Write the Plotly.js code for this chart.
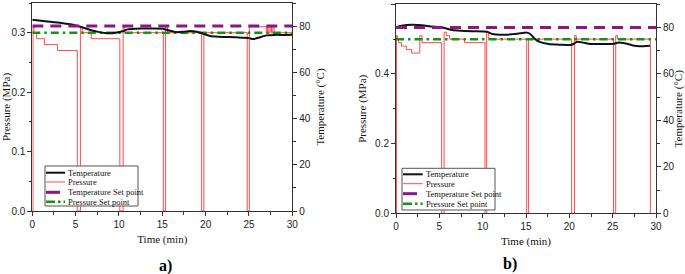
<!DOCTYPE html>
<html>
<head>
<meta charset="utf-8">
<script src="https://cdn.plot.ly/plotly-3.0.1.min.js"></script>
<style>html,body{margin:0;padding:0;background:#fff;}#chart{width:685px;height:274px;}</style>
</head>
<body>
<div id="chart"></div>
<script>
// ---------- data ----------
// Panel a)
const pressA_t = [0, 0.08, 0.2, 0.5, 1.4, 2.9, 5.19, 5.55, 5.75, 6.8, 10.1, 10.48, 10.65, 15.12, 15.38, 15.6, 19.54, 19.8, 24.8, 25.04, 27.0, 27.15, 27.3, 27.45, 27.6, 27.75, 27.9, 28.0, 30];
const pressA_v = [0, 0.31, 0.30, 0.29, 0.28, 0.27, 0, 0.31, 0.30, 0.29, 0, 0.31, 0.30, 0, 0.31, 0.30, 0, 0.30, 0, 0.31, 0.30, 0.31, 0.30, 0.31, 0.30, 0.31, 0.30, 0.30, 0.30];
const tempA_t = [0, 1.5, 3.35, 5.0, 5.65, 6.8, 7.6, 8.35, 9.2, 9.9, 10.5, 11.0, 11.8, 12.6, 14.0, 15.1, 15.9, 16.65, 17.5, 18.2, 19.0, 19.5, 20.0, 20.5, 21.5, 22.4, 23.5, 24.3, 25.0, 25.5, 26.2, 27.0, 28.0, 29.0, 30];
const tempA_v = [82.8, 82.1, 81.3, 80.3, 79.6, 78.2, 77.5, 77.0, 76.9, 77.3, 77.9, 78.6, 78.9, 79.0, 79.0, 78.9, 78.0, 77.4, 77.6, 77.9, 77.6, 77.0, 76.3, 75.7, 75.4, 75.3, 75.2, 75.0, 74.8, 74.4, 75.1, 76.0, 76.2, 76.2, 76.3];
const setA_t = [0, 30];
const tempSetA = [80, 80];
const pressSetA = [0.3, 0.3];

// Panel b)
const pressB_t = [0, 0.05, 0.15, 0.3, 0.65, 1.2, 1.8, 2.75, 3.0, 5.27, 5.55, 5.8, 6.2, 7.9, 10.27, 10.46, 10.7, 15.08, 15.3, 20.27, 20.6, 20.8, 25.1, 25.35, 25.55, 29.35];
const pressB_v = [0, 0.51, 0.50, 0.49, 0.48, 0.47, 0.46, 0.51, 0.49, 0, 0.52, 0.51, 0.50, 0.49, 0, 0.52, 0.50, 0, 0.50, 0, 0.51, 0.50, 0, 0.51, 0.50, 0];
const tempB_t = [0, 0.8, 1.85, 3.0, 4.15, 5.0, 5.7, 6.5, 7.5, 8.8, 10.5, 11.1, 12.6, 14.0, 15.1, 15.5, 16.0, 16.5, 17.6, 19.0, 20.1, 20.5, 20.9, 21.6, 22.4, 24.0, 25.1, 25.7, 26.5, 27.8, 29.3];
const tempB_v = [80.1, 80.9, 81.2, 81.0, 80.4, 80.2, 79.7, 78.9, 78.6, 78.4, 78.2, 77.2, 76.9, 77.3, 77.8, 77.2, 75.2, 73.9, 72.9, 72.6, 72.5, 72.9, 73.9, 73.5, 72.9, 72.9, 73.0, 73.5, 73.1, 72.0, 72.2];
const setB_t = [0, 30];
const tempSetB = [80, 80];
const pressSetB = [0.5, 0.5];

const legendLabels = ["Temperature", "Pressure", "Temperature Set point", "Pressure Set point"];
const panelLabels = ["a)", "b)"];

// ---------- styles ----------
const RED = '#ff4a4a', BLACK = '#111111', PURPLE = '#8a168a', GREEN = '#1a8f1a';
const styles = [
  {color: BLACK, width: 2, dash: 'solid'},
  {color: RED, width: 1, dash: 'solid'},
  {color: PURPLE, width: 3, dash: '11px,7px'},
  {color: GREEN, width: 2.5, dash: '8px,4px,2.5px,4px'}
];

function panelTraces(xa, yp, yt, pt, pv, tt, tv, st, ts, ps) {
  return [
    {x: pt, y: pv, xaxis: xa, yaxis: yp, type: 'scatter', mode: 'lines', line: {color: styles[1].color, width: styles[1].width, shape: 'hv'}, showlegend: false, hoverinfo: 'skip'},
    {x: tt, y: tv, xaxis: xa, yaxis: yt, type: 'scatter', mode: 'lines', line: {color: styles[0].color, width: styles[0].width, shape: 'spline', smoothing: 0.6}, showlegend: false, hoverinfo: 'skip'},
    {x: st, y: ts, xaxis: xa, yaxis: yt, type: 'scatter', mode: 'lines', line: {color: styles[2].color, width: styles[2].width, dash: styles[2].dash}, showlegend: false, hoverinfo: 'skip'},
    {x: st, y: ps, xaxis: xa, yaxis: yp, type: 'scatter', mode: 'lines', line: {color: styles[3].color, width: styles[3].width, dash: styles[3].dash}, showlegend: false, hoverinfo: 'skip'}
  ];
}

const data = [].concat(
  panelTraces('x', 'y', 'y2', pressA_t, pressA_v, tempA_t, tempA_v, setA_t, tempSetA, pressSetA),
  panelTraces('x2', 'y3', 'y4', pressB_t, pressB_v, tempB_t, tempB_v, setB_t, tempSetB, pressSetB)
);

const W = 685, H = 274;
const px = v => v / W, py = v => 1 - v / H;

const tickFont = {family: 'Liberation Sans, Arial, sans-serif', size: 10, color: '#222'};
const titleFont = {family: 'Liberation Serif, Times New Roman, serif', size: 11, color: '#111'};
const AXC = '#333';

function xAxis(domain, anchor) {
  return {domain: domain, anchor: anchor, range: [0, 30], dtick: 5, tick0: 0, ticks: 'outside', ticklen: 4, tickwidth: 1, tickcolor: AXC,
    minor: {dtick: 2.5, ticks: 'outside', ticklen: 2.5, tickcolor: AXC},
    showline: true, linecolor: AXC, linewidth: 1, mirror: true, showgrid: false, zeroline: false,
    tickfont: tickFont, title: {text: 'Time (min)', font: titleFont, standoff: 6}, automargin: false};
}
function yLeft(domain, anchor, range, dtick, mdt, fmt) {
  return {domain: domain, anchor: anchor, range: range, dtick: dtick, tick0: 0, tickformat: fmt, ticks: 'outside', ticklen: 4, tickcolor: AXC,
    minor: {dtick: mdt, ticks: 'outside', ticklen: 2.5, tickcolor: AXC},
    showline: true, linecolor: AXC, linewidth: 1, showgrid: false, zeroline: false,
    tickfont: tickFont, title: {text: 'Pressure (MPa)', font: titleFont, standoff: 6}, automargin: false};
}
function yRight(over, anchor) {
  return {overlaying: over, anchor: anchor, side: 'right', range: [0, 90], dtick: 20, tick0: 0, ticks: 'outside', ticklen: 4, tickcolor: AXC,
    minor: {dtick: 10, ticks: 'outside', ticklen: 2.5, tickcolor: AXC},
    showline: true, linecolor: AXC, linewidth: 1, showgrid: false, zeroline: false,
    tickfont: tickFont, title: {text: 'Temperature (°C)', font: titleFont, standoff: 6}, automargin: false};
}

// manual legends (boxes, samples, labels)
const shapes = [], annotations = [];
function legend(x0, x1, y0, y1, rows, sx0, sx1, tx) {
  shapes.push({type: 'rect', xref: 'paper', yref: 'paper', x0: px(x0), x1: px(x1), y0: py(y1), y1: py(y0), line: {color: '#555', width: 1}, fillcolor: 'rgba(255,255,255,1)', layer: 'above'});
  rows.forEach((ry, i) => {
    shapes.push({type: 'line', xref: 'paper', yref: 'paper', x0: px(sx0), x1: px(sx1), y0: py(ry), y1: py(ry), line: {color: styles[i].color, width: styles[i].width, dash: i === 2 ? '14px,6px' : (i === 3 ? '9px,3px,2.5px,3px' : 'solid')}, layer: 'above'});
    annotations.push({xref: 'paper', yref: 'paper', x: px(tx), y: py(ry), xanchor: 'left', yanchor: 'middle', showarrow: false, text: legendLabels[i], font: {family: 'Liberation Serif, Times New Roman, serif', size: 8.5, color: '#111'}});
  });
}
legend(45, 138, 166, 206, [172.7, 182, 192.3, 201.7], 46, 65, 66);
legend(402, 495, 168.3, 210, [174.3, 183.7, 193.7, 203.7], 403, 422.7, 423.5);

annotations.push({xref: 'paper', yref: 'paper', x: px(165), y: py(266), xanchor: 'center', yanchor: 'middle', showarrow: false, text: '<b>' + panelLabels[0] + '</b>', font: {family: 'Liberation Serif, Times New Roman, serif', size: 16, color: '#000'}});
annotations.push({xref: 'paper', yref: 'paper', x: px(510), y: py(264), xanchor: 'center', yanchor: 'middle', showarrow: false, text: '<b>' + panelLabels[1] + '</b>', font: {family: 'Liberation Serif, Times New Roman, serif', size: 16, color: '#000'}});

const layout = {
  width: W, height: H,
  margin: {l: 0, r: 0, t: 0, b: 0},
  paper_bgcolor: '#fff', plot_bgcolor: '#fff',
  showlegend: false,
  xaxis: xAxis([px(32.3), px(292.3)], 'y'),
  yaxis: yLeft([py(211), py(3)], 'x', [0, 0.35], 0.1, 0.05, '.1f'),
  yaxis2: yRight('y', 'x'),
  xaxis2: xAxis([px(396), px(656)], 'y3'),
  yaxis3: yLeft([py(213.3), py(4.3)], 'x2', [0, 0.6], 0.2, 0.1, '.1f'),
  yaxis4: yRight('y3', 'x2'),
  shapes: shapes,
  annotations: annotations
};

Plotly.newPlot('chart', data, layout, {staticPlot: true, displayModeBar: false});
</script>
</body>
</html>
